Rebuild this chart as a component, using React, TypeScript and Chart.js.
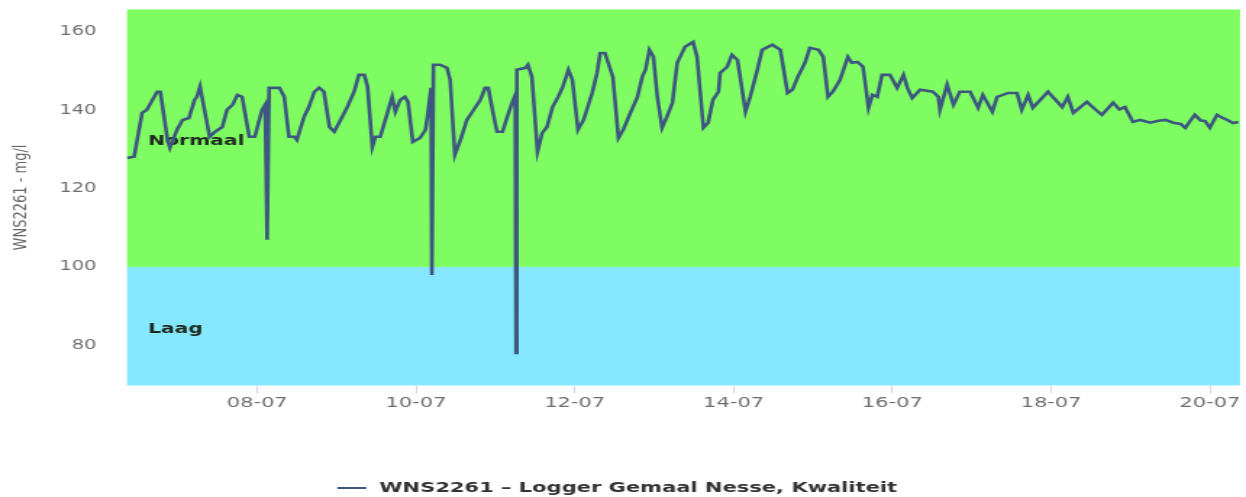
import React, { useEffect, useRef } from 'react';
import { Chart, registerables } from 'chart.js';

Chart.register(...registerables);

// Day of July (decimal) for each reading
const times = [
  6.36, 6.45, 6.55, 6.61, 6.68, 6.74, 6.78, 6.87, 6.9, 6.99, 7.06, 7.14, 7.21, 7.24, 7.28, 7.4, 7.47, 7.56, 7.62, 7.69,
  7.75, 7.81, 7.9, 7.97, 8.06, 8.1, 8.125, 8.15, 8.28, 8.34, 8.4, 8.47, 8.5, 8.59, 8.65, 8.72, 8.78, 8.84, 8.91, 8.97,
  9.05, 9.13, 9.22, 9.28, 9.35, 9.39, 9.45, 9.49, 9.55, 9.64, 9.7, 9.74, 9.8, 9.86, 9.9, 9.96, 10.05, 10.12, 10.15, 10.19,
  10.2, 10.22, 10.3, 10.39, 10.43, 10.49, 10.56, 10.64, 10.71, 10.81, 10.87, 10.91, 10.97, 11.02, 11.09, 11.15, 11.21, 11.25, 11.26, 11.27,
  11.38, 11.41, 11.46, 11.53, 11.59, 11.65, 11.72, 11.79, 11.85, 11.92, 11.97, 12.04, 12.11, 12.22, 12.28, 12.32, 12.38, 12.42, 12.48, 12.55,
  12.61, 12.7, 12.79, 12.85, 12.89, 12.94, 12.99, 13.04, 13.1, 13.16, 13.23, 13.29, 13.37, 13.39, 13.49, 13.54, 13.62, 13.68, 13.74, 13.81,
  13.83, 13.92, 13.98, 14.05, 14.15, 14.21, 14.3, 14.36, 14.49, 14.59, 14.68, 14.74, 14.81, 14.9, 14.96, 15.07, 15.13, 15.19, 15.25, 15.34,
  15.44, 15.49, 15.56, 15.63, 15.7, 15.75, 15.81, 15.87, 15.97, 16.06, 16.14, 16.19, 16.25, 16.35, 16.51, 16.58, 16.6, 16.69, 16.77, 16.85,
  16.98, 17.08, 17.14, 17.26, 17.32, 17.46, 17.57, 17.63, 17.71, 17.77, 17.96, 18.14, 18.21, 18.28, 18.45, 18.55, 18.64, 18.78, 18.86, 18.93,
  19.03, 19.12, 19.25, 19.35, 19.44, 19.54, 19.63, 19.69, 19.75, 19.81, 19.88, 19.94, 20.0, 20.04, 20.09, 20.16, 20.22, 20.29, 20.36,
];

// WNS2261 readings, mg/l
const values = [
  127.8, 128.1, 139.3, 140.1, 142.6, 144.7, 144.7, 132.4, 130.4, 135.0, 137.5, 138.0, 142.6, 143.4, 146.0, 133.2, 134.5, 135.7, 140.1, 141.4,
  143.9, 143.4, 133.2, 133.2, 140.1, 141.4, 106.9, 145.7, 145.7, 143.4, 133.2, 133.2, 132.4, 138.3, 140.8, 144.7, 145.7, 144.7, 135.7, 134.5,
  137.5, 140.6, 144.7, 149.0, 149.0, 146.0, 130.6, 133.2, 133.2, 139.3, 143.4, 139.6, 142.6, 143.4, 142.1, 131.9, 132.9, 135.0, 139.3, 145.7,
  97.9, 151.6, 151.6, 150.8, 147.7, 128.6, 132.4, 137.5, 139.6, 142.6, 145.7, 145.7, 139.3, 134.5, 134.5, 138.3, 141.9, 143.9, 78.0, 150.3,
  150.8, 151.6, 148.5, 129.4, 134.2, 135.7, 140.8, 143.4, 146.0, 150.3, 147.7, 135.0, 137.5, 144.4, 149.5, 154.6, 154.6, 152.1, 148.5, 132.9,
  135.0, 139.3, 143.4, 148.5, 150.3, 155.4, 153.6, 143.4, 135.5, 138.3, 141.9, 152.1, 155.4, 156.2, 157.4, 153.6, 135.5, 136.8, 142.6, 144.7,
  149.5, 151.1, 154.1, 152.8, 139.6, 143.4, 150.3, 155.4, 156.7, 155.4, 144.4, 145.2, 148.5, 152.1, 155.9, 155.4, 153.6, 143.4, 144.7, 147.7,
  153.6, 152.1, 152.3, 151.1, 140.6, 143.9, 143.4, 149.0, 149.0, 145.7, 149.0, 145.7, 143.1, 145.2, 144.7, 143.4, 140.1, 146.5, 141.4, 144.7,
  144.7, 140.6, 143.9, 139.6, 143.4, 144.4, 144.4, 140.1, 143.9, 140.6, 144.7, 140.8, 143.4, 139.3, 142.1, 140.3, 138.8, 141.9, 140.2, 140.8,
  137.0, 137.5, 136.8, 137.3, 137.5, 136.8, 136.5, 135.5, 137.2, 138.8, 137.4, 137.2, 135.5, 137.0, 138.8, 138.0, 137.5, 136.7, 137.0,
];

const seriesLabel = 'WNS2261 – Logger Gemaal Nesse, Kwaliteit';
const yTitle = 'WNS2261 - mg/l';
const xTickDays = [8, 10, 12, 14, 16, 18, 20];
const yTickValues = [80, 100, 120, 140, 160];
const xMin = 6.36;
const xMax = 20.38;
const yMin = 69.7;
const yMax = 165.7;

const bandNames = ['Laag', 'Normaal'];
const bandFrom = [0, 100];
const bandTo = [100, 1000];
const bandColors = ['#85e8ff', '#7ffc62'];

const LINE_COLOR = '#3d5780';
const CANVAS_W = 860;
const CANVAS_H = 497;
const FONT = "'DejaVu Sans', sans-serif";

const bandsPlugin = {
  id: 'bandsAndLegend',
  beforeDraw(chart: any) {
    const { ctx, chartArea, scales } = chart;
    const { left, right, top, bottom } = chartArea;
    const y = scales.y;
    ctx.save();
    for (let i = 0; i < bandNames.length; i++) {
      const p0 = Math.min(bottom, Math.max(top, y.getPixelForValue(bandFrom[i])));
      const p1 = Math.min(bottom, Math.max(top, y.getPixelForValue(bandTo[i])));
      ctx.fillStyle = bandColors[i];
      ctx.fillRect(left, p1, right - left, p0 - p1);
    }
    ctx.restore();
  },
  beforeDatasetsDraw(chart: any) {
    const { ctx, chartArea, scales } = chart;
    const { left, top, bottom } = chartArea;
    const y = scales.y;
    ctx.save();
    ctx.font = `bold 14px ${FONT}`;
    ctx.fillStyle = '#1e2a1e';
    ctx.textAlign = 'left';
    ctx.textBaseline = 'middle';
    for (let i = 0; i < bandNames.length; i++) {
      const p0 = Math.min(bottom, Math.max(top, y.getPixelForValue(bandFrom[i])));
      const p1 = Math.min(bottom, Math.max(top, y.getPixelForValue(bandTo[i])));
      ctx.fillText(bandNames[i], left + 14.5, (p0 + p1) / 2 + 3);
    }
    ctx.restore();
  },
  afterDraw(chart: any) {
    const { ctx } = chart;
    ctx.save();
    ctx.font = `bold 14.5px ${FONT}`;
    const tw = ctx.measureText(seriesLabel).width;
    const sample = 20;
    const gap = 9;
    const total = sample + gap + tw;
    const x0 = chart.width / 2 - total / 2 - 4;
    const yy = 488;
    ctx.strokeStyle = LINE_COLOR;
    ctx.lineWidth = 2;
    ctx.beginPath();
    ctx.moveTo(x0, yy);
    ctx.lineTo(x0 + sample, yy);
    ctx.stroke();
    ctx.fillStyle = '#333333';
    ctx.textAlign = 'left';
    ctx.textBaseline = 'middle';
    ctx.fillText(seriesLabel, x0 + sample + gap, yy);
    ctx.restore();
  },
};

export default function App() {
  const canvasRef = useRef<HTMLCanvasElement | null>(null);

  useEffect(() => {
    if (!canvasRef.current) return;
    Chart.defaults.font.family = FONT;
    const chart = new Chart(canvasRef.current, {
      type: 'line',
      data: {
        datasets: [
          {
            label: seriesLabel,
            data: times.map((t, i) => ({ x: t, y: values[i] })),
            borderColor: LINE_COLOR,
            borderWidth: 2.6,
            pointRadius: 0,
            tension: 0,
            fill: false,
          },
        ],
      },
      options: {
        responsive: false,
        animation: false,
        devicePixelRatio: 1,
        layout: { padding: { left: 0, right: 4.1, top: 9.5, bottom: 0 } },
        plugins: {
          legend: { display: false },
          tooltip: { enabled: false },
        },
        scales: {
          x: {
            type: 'linear',
            min: xMin,
            max: xMax,
            afterBuildTicks: (scale: any) => {
              scale.ticks = xTickDays.map((v) => ({ value: v }));
            },
            afterFit: (scale: any) => {
              scale.height = 111.5;
              scale.paddingLeft = 0;
              scale.paddingRight = 0;
              scale.paddingTop = 0;
              scale.paddingBottom = 0;
            },
            ticks: {
              padding: 1,
              color: '#6e6e6e',
              font: { size: 14.5 },
              maxRotation: 0,
              autoSkip: false,
              callback: (v: any) => `${String(v).padStart(2, '0')}-07`,
            },
            grid: {
              display: true,
              drawOnChartArea: false,
              drawTicks: true,
              tickLength: 8,
              color: '#ccd6eb',
            },
            border: { display: false },
          },
          y: {
            type: 'linear',
            min: yMin,
            max: yMax,
            afterBuildTicks: (scale: any) => {
              scale.ticks = yTickValues.map((v) => ({ value: v }));
            },
            afterFit: (scale: any) => {
              scale.width = 87.66;
              scale.paddingLeft = 0;
              scale.paddingRight = 0;
              scale.paddingTop = 0;
              scale.paddingBottom = 0;
            },
            ticks: {
              padding: 21,
              color: '#6e6e6e',
              font: { size: 13.5 },
              callback: (v: any) => String(v),
            },
            grid: { display: false, drawTicks: false },
            border: { display: false },
            title: {
              display: true,
              text: yTitle,
              color: '#666666',
              font: { size: 13 },
              padding: { top: 7, bottom: 0 },
            },
          },
        },
      },
      plugins: [bandsPlugin],
    } as any);
    return () => chart.destroy();
  }, []);

  return (
    <canvas
      ref={canvasRef}
      width={CANVAS_W}
      height={CANVAS_H}
      style={{ position: 'fixed', left: 0, top: 0, width: '1246px', height: '497px', display: 'block' }}
    />
  );
}
